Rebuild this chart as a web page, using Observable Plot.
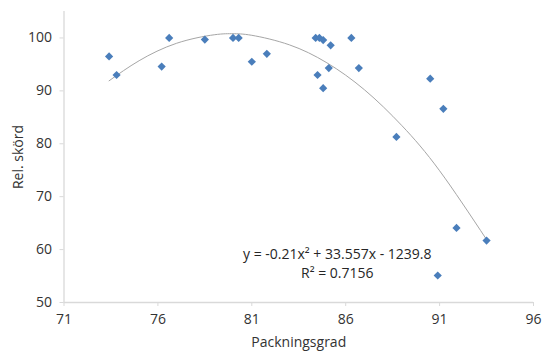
<!DOCTYPE html>
<html>
<head>
<meta charset="utf-8">
<script src="https://cdn.jsdelivr.net/npm/d3@7"></script>
<script src="https://cdn.jsdelivr.net/npm/@observablehq/plot@0.6"></script>
<style>
  body { margin: 0; background: #fff; }
  #chart svg { font-family: "Open Sans", sans-serif; }
</style>
</head>
<body>
<div id="chart"></div>
<script>
// Scatter data (Packningsgrad, Rel. skörd)
const packningsgrad = [73.4, 73.8, 76.2, 76.6, 78.5, 80.0, 80.3, 81.0, 81.8, 84.4, 84.6, 84.8, 85.2, 84.5, 85.1, 84.8, 86.3, 86.7, 88.7, 90.5, 91.2, 91.9, 93.5, 90.9];
const relSkord =      [96.5, 93.0, 94.6, 100.0, 99.7, 100.0, 100.0, 95.5, 97.0, 100.0, 100.0, 99.6, 98.6, 93.0, 94.3, 90.5, 100.0, 94.3, 81.3, 92.3, 86.6, 64.1, 61.7, 55.1];

// Trendline points
const trendX = [73.4, 75, 77, 79, 80, 81, 83, 85, 87, 89, 91, 93.5];
const trendY = [91.9, 95.7, 99.0, 100.6, 100.8, 100.5, 98.7, 95.3, 90.2, 83.4, 74.9, 61.9];

const xTicks = [71, 76, 81, 86, 91, 96];
const yTicks = [50, 60, 70, 80, 90, 100];

const equationText = ["y = -0.21x² + 33.557x - 1239.8", "R² = 0.7156"];
const equationX = [85.55, 85.55];
const equationY = [59.0, 55.55];

const points = packningsgrad.map((x, i) => ({x, y: relSkord[i]}));
const trend = trendX.map((x, i) => ({x, y: trendY[i]}));
const eq = equationText.map((t, i) => ({t, x: equationX[i], y: equationY[i]}));

const axisGray = "#d9d9d9";
const textColor = "#333333";

const chart = Plot.plot({
  width: 545,
  height: 352,
  marginLeft: 63.5,
  marginRight: 12,
  marginTop: 11,
  marginBottom: 50,
  style: {fontFamily: "Open Sans, sans-serif", fontSize: "13.5px", color: textColor, background: "#fff"},
  x: {domain: [71, 96]},
  y: {domain: [50, 105]},
  marks: [
    Plot.ruleY([50], {stroke: axisGray, strokeWidth: 1.3}),
    Plot.ruleX([71], {y1: 50, y2: 105, stroke: axisGray, strokeWidth: 1.3}),
    Plot.axisX({ticks: xTicks, tickSize: 4, tickPadding: 8, stroke: axisGray, fill: textColor, fontSize: 14,
      label: "Packningsgrad", labelAnchor: "center", labelOffset: 44, labelArrow: false}),
    Plot.axisY({ticks: yTicks, tickSize: 4, tickPadding: 8, stroke: axisGray, fill: textColor, fontSize: 14,
      label: "Rel. skörd", labelAnchor: "center", labelOffset: 51, labelArrow: false}),
    Plot.line(trend, {x: "x", y: "y", curve: "natural", stroke: "#a6a6a6", strokeWidth: 1}),
    Plot.dot(points, {x: "x", y: "y", symbol: "diamond2", r: 3.7, fill: "#4a7ebb", stroke: "none"}),
    Plot.text(eq, {x: "x", y: "y", text: "t", fill: "#262626", fontSize: 14, textAnchor: "middle"})
  ]
});
document.getElementById("chart").appendChild(chart);
</script>
</body>
</html>
